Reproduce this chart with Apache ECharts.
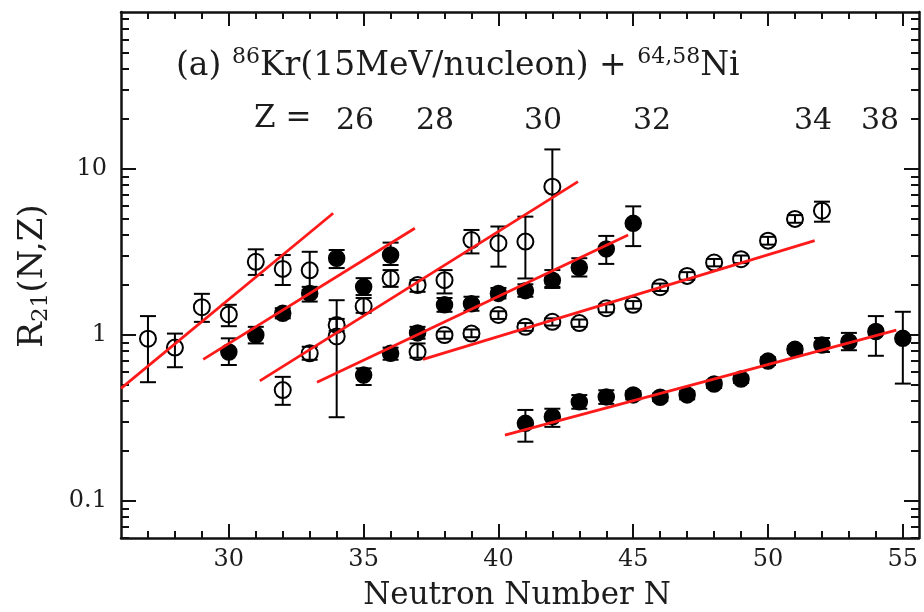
<!DOCTYPE html>
<html>
<head>
<meta charset="utf-8">
<script src="https://cdn.jsdelivr.net/npm/echarts@6/dist/echarts.min.js"></script>
<style>
  html, body { margin: 0; padding: 0; background: #fff; }
  #chart { width: 924px; height: 612px; }
</style>
</head>
<body>
<div id="chart"></div>
<script>
// Isotopic yield ratios R21(N,Z); each row is [N, R21, lower, upper]
const z26Open = [
  [27, 0.95, 0.52, 1.30],
  [28, 0.84, 0.64, 1.02],
  [29, 1.47, 1.20, 1.77],
  [30, 1.33, 1.13, 1.52],
  [31, 2.76, 2.30, 3.28],
  [32, 2.50, 2.00, 3.03],
  [33, 2.45, 1.87, 3.17]
];
const z28Filled = [
  [30, 0.79, 0.66, 0.955],
  [31, 1.00, 0.89, 1.12],
  [32, 1.35, 1.26, 1.45],
  [33, 1.78, 1.59, 1.95],
  [34, 2.90, 2.53, 3.25],
  [35, 1.95, 1.74, 2.20],
  [36, 3.03, 2.64, 3.60]
];
const z30Open = [
  [32, 0.466, 0.38, 0.56],
  [33, 0.776, 0.71, 0.85],
  [34, 0.98, 0.32, 1.62],
  [34, 1.15, 1.06, 1.25],
  [35, 1.49, 1.36, 1.67],
  [36, 2.19, 1.95, 2.46],
  [37, 2.00, 1.82, 2.14],
  [38, 2.14, 1.78, 2.46],
  [39, 3.73, 3.10, 4.29],
  [40, 3.57, 2.58, 4.50],
  [41, 3.65, 2.19, 5.16],
  [42, 7.82, 1.95, 13.1]
];
const z32Filled = [
  [35, 0.574, 0.50, 0.63],
  [36, 0.776, 0.71, 0.84],
  [37, 1.03, 0.95, 1.12],
  [38, 1.52, 1.38, 1.67],
  [39, 1.54, 1.40, 1.70],
  [40, 1.78, 1.66, 1.92],
  [41, 1.85, 1.70, 2.02],
  [42, 2.14, 1.92, 2.46],
  [43, 2.55, 2.25, 2.90],
  [44, 3.30, 2.68, 3.95],
  [45, 4.70, 3.43, 5.95]
];
const z34Open = [
  [37, 0.79, 0.73, 0.89],
  [38, 1.00, 0.95, 1.05],
  [39, 1.02, 0.97, 1.08],
  [40, 1.32, 1.25, 1.39],
  [41, 1.12, 1.06, 1.18],
  [42, 1.20, 1.14, 1.26],
  [43, 1.18, 1.12, 1.24],
  [44, 1.45, 1.37, 1.53],
  [45, 1.52, 1.44, 1.60],
  [46, 1.94, 1.84, 2.04],
  [47, 2.27, 2.15, 2.39],
  [48, 2.73, 2.59, 2.87],
  [49, 2.86, 2.71, 3.01],
  [50, 3.70, 3.50, 3.90],
  [51, 5.00, 4.74, 5.27],
  [52, 5.60, 4.81, 6.35]
];
const z38Filled = [
  [41, 0.294, 0.228, 0.354],
  [42, 0.322, 0.28, 0.36],
  [43, 0.396, 0.36, 0.435],
  [44, 0.424, 0.385, 0.465],
  [45, 0.436, 0.41, 0.46],
  [46, 0.422, 0.40, 0.445],
  [47, 0.436, 0.41, 0.46],
  [48, 0.507, 0.48, 0.535],
  [49, 0.543, 0.515, 0.57],
  [50, 0.697, 0.66, 0.735],
  [51, 0.82, 0.78, 0.86],
  [52, 0.871, 0.79, 0.96],
  [53, 0.911, 0.81, 1.03],
  [54, 1.05, 0.75, 1.30],
  [55, 0.955, 0.51, 1.38]
];

// Exponential fits, given by their end points [N, R21]
const fitZ26 = [[26.0, 0.477], [33.87, 5.41]];
const fitZ28 = [[29.05, 0.714], [36.9, 4.39]];
const fitZ30 = [[31.15, 0.53], [42.95, 8.38]];
const fitZ32 = [[33.27, 0.519], [44.81, 4.0]];
const fitZ34 = [[37.2, 0.714], [51.73, 3.7]];
const fitZ38 = [[40.24, 0.25], [54.76, 1.07]];

// Axis ticks
const xMajorTicks = [30, 35, 40, 45, 50, 55];
const xMinorTicks = [27, 28, 29, 31, 32, 33, 34, 36, 37, 38, 39, 41, 42, 43, 44, 46, 47, 48, 49, 51, 52, 53, 54];
const yMajorTicks = [0.1, 1, 10];
const yMinorTicks = [0.06, 0.07, 0.08, 0.09, 0.2, 0.3, 0.4, 0.5, 0.6, 0.7, 0.8, 0.9,
  2, 3, 4, 5, 6, 7, 8, 9, 20, 30, 40, 50, 60, 70, 80];

// Proton numbers written above the isotopic chains
const zLabels = ['26', '28', '30', '32', '34', '38'];

const FONT = 'DejaVu Serif';
const INK = '#111';
const TEXT = '#1c1c1c';
const X_MIN = 26, X_MAX = 55.6, Y_MIN = 0.06, Y_MAX = 88;

function xAxisDef(position, ticks, len, withLine, withLabels) {
  return {
    type: 'value', position: position, min: X_MIN, max: X_MAX,
    axisLine: { show: withLine, onZero: false, lineStyle: { color: INK, width: 2.5 } },
    axisTick: { show: true, inside: true, length: len, customValues: ticks, lineStyle: { color: INK, width: 2 } },
    axisLabel: withLabels
      ? { show: true, customValues: ticks, margin: 10, fontFamily: FONT, fontSize: 24, color: TEXT }
      : { show: false },
    splitLine: { show: false }
  };
}
function yAxisDef(position, ticks, len, withLine, withLabels) {
  return {
    type: 'log', logBase: 10, position: position, min: Y_MIN, max: Y_MAX,
    axisLine: { show: withLine, onZero: false, lineStyle: { color: INK, width: 2.5 } },
    axisTick: { show: true, inside: true, length: len, customValues: ticks, lineStyle: { color: INK, width: 2 } },
    axisLabel: withLabels
      ? { show: true, customValues: ticks, margin: 14, fontFamily: FONT, fontSize: 24, color: TEXT,
          formatter: v => String(v) }
      : { show: false },
    splitLine: { show: false },
    minorTick: { show: false }
  };
}

function errorBars(rows) {
  return {
    type: 'custom',
    data: rows,
    encode: { x: 0, y: 1 },
    z: 3,
    renderItem: function (params, api) {
      const n = api.value(0);
      const lo = api.coord([n, api.value(2)]);
      const hi = api.coord([n, api.value(3)]);
      const w = 8;
      const st = { stroke: '#000', lineWidth: 2 };
      return {
        type: 'group',
        children: [
          { type: 'line', shape: { x1: lo[0], y1: lo[1], x2: hi[0], y2: hi[1] }, style: st },
          { type: 'line', shape: { x1: lo[0] - w, y1: lo[1], x2: lo[0] + w, y2: lo[1] }, style: st },
          { type: 'line', shape: { x1: hi[0] - w, y1: hi[1], x2: hi[0] + w, y2: hi[1] }, style: st }
        ]
      };
    }
  };
}
function points(rows, filled) {
  return {
    type: 'scatter',
    data: rows.map(r => [r[0], r[1]]),
    symbol: 'circle',
    symbolSize: 16,
    z: 4,
    itemStyle: filled
      ? { color: '#000', borderColor: '#000', borderWidth: 1.5, opacity: 1 }
      : { color: 'rgba(0,0,0,0)', borderColor: '#000', borderWidth: 2, opacity: 1 },
    emphasis: { disabled: true }
  };
}
function fitLine(ends) {
  return {
    type: 'line',
    data: ends,
    symbol: 'none',
    z: 5,
    lineStyle: { color: '#ff1a1a', width: 2.8 },
    emphasis: { disabled: true }
  };
}

const chains = [
  [z26Open, false], [z28Filled, true], [z30Open, false],
  [z32Filled, true], [z34Open, false], [z38Filled, true]
];
const series = [];
chains.forEach(([rows, filled]) => {
  series.push(errorBars(rows));
  series.push(points(rows, filled));
});
[fitZ26, fitZ28, fitZ30, fitZ32, fitZ34, fitZ38].forEach(f => series.push(fitLine(f)));

// Label x-centres for the Z values above the chains
const zLabelX = [355, 435, 543, 652, 813, 880];
const graphics = [
  {
    type: 'text', left: 176, top: 46,
    style: {
      text: '(a) {sup|86}Kr(15MeV/nucleon) + {sup|64,58}Ni',
      fontFamily: FONT, fontSize: 33, fill: TEXT,
      rich: {
        sup: { fontFamily: FONT, fontSize: 22, fill: TEXT, padding: [0, 0, 18, 0] }
      }
    }
  },
  {
    type: 'text', left: 254, top: 103,
    style: { text: 'Z =', fontFamily: FONT, fontSize: 31, fill: TEXT }
  }
];
zLabels.forEach((t, i) => {
  graphics.push({
    type: 'text', x: zLabelX[i], y: 121,
    style: { text: t, fontFamily: FONT, fontSize: 30, fill: TEXT, align: 'center', verticalAlign: 'middle' }
  });
});
graphics.push({
  type: 'text', x: 33, y: 276, rotation: Math.PI / 2,
  style: {
    text: 'R{sub|21}(N,Z)', fontFamily: FONT, fontSize: 34, fill: TEXT,
    align: 'center', verticalAlign: 'middle',
    rich: { sub: { fontFamily: FONT, fontSize: 23, fill: TEXT, padding: [16, 0, 0, 0] } }
  }
});
graphics.push({
  type: 'text', x: 517, y: 596,
  style: { text: 'Neutron Number N', fontFamily: FONT, fontSize: 31, fill: TEXT, align: 'center', verticalAlign: 'middle' }
});

const chart = echarts.init(document.getElementById('chart'), null, { renderer: 'canvas' });
chart.setOption({
  animation: false,
  backgroundColor: '#fff',
  grid: { left: 121, right: 5, top: 12, bottom: 74, containLabel: false },
  xAxis: [
    xAxisDef('bottom', xMajorTicks, 14, true, true),
    xAxisDef('bottom', xMinorTicks, 7, false, false),
    xAxisDef('top', xMajorTicks, 14, true, false),
    xAxisDef('top', xMinorTicks, 7, false, false)
  ],
  yAxis: [
    yAxisDef('left', yMajorTicks, 15, true, true),
    yAxisDef('left', yMinorTicks, 8, false, false),
    yAxisDef('right', yMajorTicks, 15, true, false),
    yAxisDef('right', yMinorTicks, 8, false, false)
  ],
  series: series,
  graphic: graphics
});
</script>
</body>
</html>
